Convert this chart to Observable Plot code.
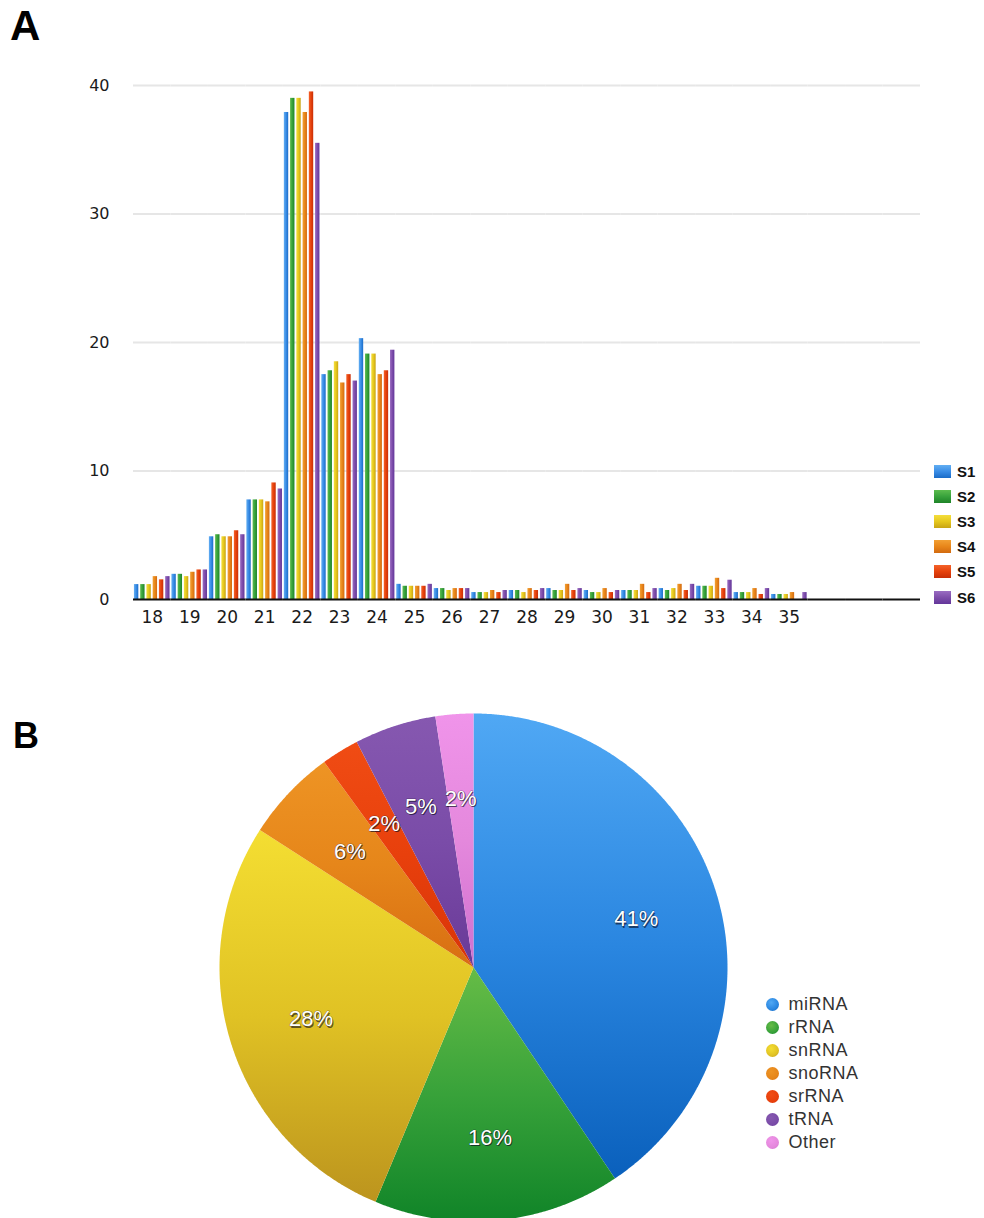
<!DOCTYPE html>
<html>
<head>
<meta charset="utf-8">
<script src="https://cdn.jsdelivr.net/npm/d3@7"></script>
<script src="https://cdn.jsdelivr.net/npm/@observablehq/plot@0.6"></script>
<style>
  body { margin: 0; background: #fff; }
  #wrap { position: relative; width: 984px; height: 1218px; overflow: hidden; font-family: "Liberation Sans", Arial, sans-serif; }
  .panel { position: absolute; font-weight: bold; color: #000; }
  .leg-row { position: absolute; display: flex; align-items: center; }
</style>
</head>
<body>
<div id="wrap"></div>
<script>
// ---------- Panel A data: read length (nt) vs percentage of reads ----------
const sizes = [18, 19, 20, 21, 22, 23, 24, 25, 26, 27, 28, 29, 30, 31, 32, 33, 34, 35];
const emptySlots = [36, 37, 38]; // unlabelled empty categories on the right of the axis
const series = ["S1", "S2", "S3", "S4", "S5", "S6"];
const S1 = [1.16, 1.96, 4.88, 7.75, 37.9, 17.5, 20.3, 1.18, 0.85, 0.54, 0.70, 0.85, 0.70, 0.70, 0.85, 1.03, 0.54, 0.39];
const S2 = [1.16, 1.96, 5.04, 7.75, 39.0, 17.8, 19.1, 1.03, 0.85, 0.54, 0.70, 0.70, 0.54, 0.70, 0.70, 1.03, 0.54, 0.39];
const S3 = [1.16, 1.78, 4.88, 7.75, 39.0, 18.5, 19.1, 1.03, 0.70, 0.54, 0.54, 0.70, 0.54, 0.70, 0.85, 1.03, 0.54, 0.39];
const S4 = [1.78, 2.12, 4.88, 7.60, 37.9, 16.85, 17.5, 1.03, 0.85, 0.70, 0.85, 1.18, 0.85, 1.18, 1.18, 1.65, 0.85, 0.54];
const S5 = [1.53, 2.30, 5.35, 9.07, 39.5, 17.5, 17.8, 1.03, 0.85, 0.54, 0.70, 0.70, 0.54, 0.54, 0.70, 0.85, 0.39, 0.00];
const S6 = [1.78, 2.30, 5.04, 8.60, 35.5, 17.0, 19.4, 1.18, 0.85, 0.70, 0.85, 0.85, 0.70, 0.85, 1.18, 1.50, 0.85, 0.54];
const yTicks = [0, 10, 20, 30, 40];
const seriesColors = ["#3a8de6", "#38a23c", "#e6c81e", "#e8861a", "#e6420c", "#7e4eaa"];
const seriesLight  = ["#62aef2", "#5cbc4e", "#f4de3c", "#f2a034", "#f4622a", "#9a6cc2"];
const seriesDark   = ["#1a6cc8", "#1e8428", "#c8a414", "#d26a10", "#c82e06", "#63369a"];

// ---------- Panel B data: RNA class composition ----------
const classes = ["miRNA", "rRNA", "snRNA", "snoRNA", "srRNA", "tRNA", "Other"];
const shares  = [40.6, 15.7, 27.8, 5.9, 2.4, 5.2, 2.4];
const classColors = ["#2a86e0", "#38a23a", "#e0c224", "#e6861a", "#e8400c", "#7a4ca8", "#e488dc"];
const classLight  = ["#50a8f4", "#66bc46", "#f4de32", "#ee9424", "#f04c14", "#8658b0", "#f094ea"];
const classDark   = ["#0a60bc", "#108428", "#bc941e", "#d86e12", "#d83408", "#6a3a98", "#d070d0"];

const wrap = document.getElementById("wrap");
const SVGNS = "http://www.w3.org/2000/svg";

function addGradients(svg, prefix, lights, mids, darks, vertical) {
  const defs = document.createElementNS(SVGNS, "defs");
  lights.forEach((c, i) => {
    const g = document.createElementNS(SVGNS, "linearGradient");
    g.setAttribute("id", prefix + i);
    g.setAttribute("x1", "0"); g.setAttribute("y1", "0");
    g.setAttribute("x2", vertical ? "0" : "1"); g.setAttribute("y2", vertical ? "1" : "0");
    [[0, lights[i]], [0.5, mids[i]], [1, darks[i]]].forEach(([o, col]) => {
      const s = document.createElementNS(SVGNS, "stop");
      s.setAttribute("offset", o);
      s.setAttribute("stop-color", col);
      g.appendChild(s);
    });
    defs.appendChild(g);
  });
  svg.insertBefore(defs, svg.firstChild);
}

// ---------- Panel A: grouped bar chart ----------
const seriesValues = [S1, S2, S3, S4, S5, S6];
const barData = sizes.flatMap((s, i) => series.map((k, j) => ({size: s, series: k, value: seriesValues[j][i]})));
const allSlots = [...sizes, ...emptySlots];
const gridData = allSlots.flatMap(s => yTicks.map(t => ({size: s, v: t})));

try {
  const barPlot = Plot.plot({
    width: 984,
    height: 650,
    marginLeft: 133,
    marginRight: 64,
    marginTop: 85,
    marginBottom: 51,
    style: {fontFamily: "DejaVu Sans", fontSize: "16px", color: "#1a1a1a", background: "transparent", overflow: "visible"},
    fx: {domain: allSlots, padding: 0, round: false, label: null},
    x: {domain: series, paddingInner: 0.3, paddingOuter: 0.15, round: false, axis: null},
    y: {domain: [0, 40], label: null},
    color: {domain: series, range: series.map((_, i) => `url(#bg${i})`)},
    marks: [
      Plot.ruleY(gridData.filter(d => d.v > 0), {fx: "size", y: "v", stroke: "#e6e6e6", strokeWidth: 2}),
      Plot.barY(barData, {fx: "size", x: "series", y: "value", fill: "series", inset: 0}),
      Plot.ruleY(gridData.filter(d => d.v === 0), {fx: "size", y: "v", stroke: "#111", strokeWidth: 2}),
      Plot.axisY(yTicks, {tickSize: 0, tickPadding: 24, fontSize: 16, label: null}),
      Plot.axisFx({anchor: "bottom", tickSize: 0, tickPadding: 11, fontSize: 17, label: null,
                   tickFormat: d => sizes.includes(d) ? String(d) : ""})
    ]
  });
  addGradients(barPlot, "bg", seriesLight, seriesColors, seriesDark, false);
  barPlot.style.position = "absolute";
  barPlot.style.left = "0px";
  barPlot.style.top = "0px";
  wrap.appendChild(barPlot);
} catch (e) { console.error(e); }

// ---------- Panel B: pie chart ----------
const pieArcs = d3.pie().sort(null)(shares);
const slicePts = [];
const labelPts = [];
pieArcs.forEach((a, i) => {
  const n = Math.max(2, Math.ceil((a.endAngle - a.startAngle) / 0.005));
  slicePts.push({cls: classes[i], px: 0, py: 0});
  for (let k = 0; k <= n; k++) {
    const t = a.startAngle + (a.endAngle - a.startAngle) * k / n;
    slicePts.push({cls: classes[i], px: Math.sin(t), py: Math.cos(t)});
  }
  const mid = (a.startAngle + a.endAngle) / 2;
  labelPts.push({cls: classes[i], px: 0.67 * Math.sin(mid), py: 0.67 * Math.cos(mid),
                 text: Math.round(shares[i]) + "%"});
});

const pieTop = 700;
try {
  const piePlot = Plot.plot({
    width: 984,
    height: 518,
    margin: 0,
    style: {fontFamily: "Liberation Sans", background: "transparent"},
    x: {domain: [-1, 1], range: [219, 727], axis: null},
    y: {domain: [-1, 1], range: [521, 13], axis: null},
    color: {domain: classes, range: classes.map((_, i) => `url(#pg${i})`)},
    marks: [
      Plot.line(slicePts, {x: "px", y: "py", z: "cls", fill: "cls", stroke: "none", curve: "linear-closed"}),
      Plot.text(labelPts, {x: "px", y: "py", text: "text", fill: "rgba(10,10,30,0.6)",
                           fontSize: 22, dx: 1, dy: 2.5}),
      Plot.text(labelPts, {x: "px", y: "py", text: "text", fill: "white", stroke: "rgba(20,20,40,0.4)",
                           strokeWidth: 1.2, paintOrder: "stroke", fontSize: 22, dy: 1})
    ]
  });
  addGradients(piePlot, "pg", classLight, classColors, classDark, true);
  piePlot.style.position = "absolute";
  piePlot.style.left = "0px";
  piePlot.style.top = pieTop + "px";
  wrap.appendChild(piePlot);
} catch (e) { console.error(e); }

// ---------- Panel letters ----------
const A = document.createElement("div");
A.className = "panel"; A.textContent = "A";
Object.assign(A.style, {left: "10px", top: "4.5px", fontSize: "42px", lineHeight: "42px"});
wrap.appendChild(A);
const B = document.createElement("div");
B.className = "panel"; B.textContent = "B";
Object.assign(B.style, {left: "13px", top: "718px", fontSize: "36px", lineHeight: "36px"});
wrap.appendChild(B);

// ---------- Legend for panel A ----------
series.forEach((s, i) => {
  const row = document.createElement("div");
  row.className = "leg-row";
  Object.assign(row.style, {left: "934px", top: (471 + i * 25.2 - 9) + "px", height: "18px"});
  const sw = document.createElement("div");
  Object.assign(sw.style, {width: "17px", height: "13px",
    background: `linear-gradient(to bottom, ${seriesLight[i]}, ${seriesColors[i]} 50%, ${seriesDark[i]})`});
  const tx = document.createElement("div");
  tx.textContent = s;
  Object.assign(tx.style, {marginLeft: "6px", fontWeight: "bold", fontSize: "15px", color: "#111"});
  row.appendChild(sw); row.appendChild(tx);
  wrap.appendChild(row);
});

// ---------- Legend for panel B ----------
classes.forEach((c, i) => {
  const row = document.createElement("div");
  row.className = "leg-row";
  Object.assign(row.style, {left: "765.5px", top: (1004 + i * 23.1 - 10) + "px", height: "20px"});
  const sw = document.createElement("div");
  Object.assign(sw.style, {width: "13px", height: "13px", borderRadius: "50%",
    background: `radial-gradient(circle at 40% 35%, ${classLight[i]}, ${classColors[i]} 60%, ${classDark[i]})`});
  const tx = document.createElement("div");
  tx.textContent = c;
  Object.assign(tx.style, {marginLeft: "10px", fontSize: "18px", color: "#333", letterSpacing: "0.5px"});
  row.appendChild(sw); row.appendChild(tx);
  wrap.appendChild(row);
});
</script>
</body>
</html>
